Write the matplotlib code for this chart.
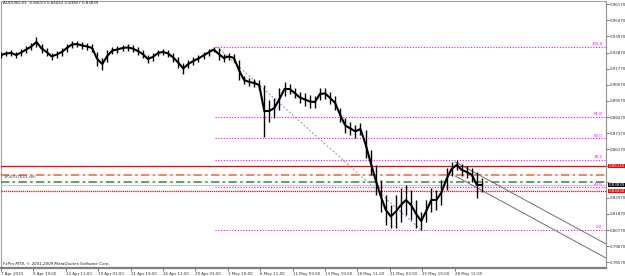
import matplotlib
matplotlib.use("Agg")
import matplotlib.pyplot as plt
import numpy as np

# ── Data (AUDUSD H1, high / low per 10-bar block) ─────────────────────────────
STEP = 10
high = [0.9291, 0.9298, 0.9305, 0.9291, 0.9312, 0.9332, 0.9353, 0.9394, 0.9346, 0.9319,
        0.9285, 0.9298, 0.9319, 0.9346, 0.9366, 0.9366, 0.9360, 0.9353, 0.9346, 0.9291,
        0.9250, 0.9305, 0.9325, 0.9332, 0.9339, 0.9346, 0.9339, 0.9325, 0.9305, 0.9271,
        0.9285, 0.9305, 0.9312, 0.9305, 0.9285, 0.9257, 0.9216, 0.9237, 0.9257, 0.9271,
        0.9291, 0.9312, 0.9325, 0.9319, 0.9278, 0.9285, 0.9278, 0.9237, 0.9128, 0.9114,
        0.9107, 0.9100, 0.9066, 0.8964, 0.8978, 0.9046, 0.9087, 0.9073, 0.9046, 0.9019,
        0.9012, 0.8998, 0.8991, 0.9046, 0.9046, 0.9019, 0.8991, 0.8909, 0.8841, 0.8814,
        0.8794, 0.8807, 0.8759, 0.8623, 0.8521, 0.8418, 0.8316, 0.8248, 0.8316, 0.8364,
        0.8384, 0.8350, 0.8282, 0.8200, 0.8282, 0.8364, 0.8350, 0.8418, 0.8500, 0.8541,
        0.8555, 0.8528, 0.8514, 0.8500, 0.8473, 0.8432]
low = [0.9250, 0.9264, 0.9264, 0.9250, 0.9264, 0.9285, 0.9305, 0.9325, 0.9285, 0.9264,
       0.9237, 0.9250, 0.9264, 0.9291, 0.9319, 0.9325, 0.9312, 0.9305, 0.9291, 0.9196,
       0.9169, 0.9223, 0.9278, 0.9285, 0.9298, 0.9298, 0.9291, 0.9271, 0.9250, 0.9216,
       0.9230, 0.9264, 0.9271, 0.9257, 0.9223, 0.9182, 0.9141, 0.9182, 0.9203, 0.9223,
       0.9244, 0.9264, 0.9291, 0.9237, 0.9223, 0.9237, 0.9223, 0.9100, 0.9073, 0.9060,
       0.9053, 0.9032, 0.8712, 0.8814, 0.8841, 0.8896, 0.8991, 0.9005, 0.8978, 0.8944,
       0.8923, 0.8909, 0.8909, 0.8964, 0.8971, 0.8937, 0.8896, 0.8814, 0.8739, 0.8725,
       0.8705, 0.8725, 0.8568, 0.8453, 0.8316, 0.8200, 0.8112, 0.8091, 0.8091, 0.8132,
       0.8180, 0.8146, 0.8091, 0.8077, 0.8132, 0.8200, 0.8214, 0.8248, 0.8350, 0.8446,
       0.8487, 0.8446, 0.8432, 0.8405, 0.8296, 0.8337]

date_labels = ["7 Apr 2010", "9 Apr 19:00", "14 Apr 11:00", "19 Apr 03:00", "21 Apr 19:00",
               "26 Apr 11:00", "29 Apr 03:00", "3 May 19:00", "6 May 11:00", "11 May 03:00",
               "13 May 19:00", "18 May 11:00", "21 May 03:00", "25 May 19:00", "28 May 11:00"]
date_bars = [0, 64, 128, 192, 256, 320, 384, 448, 512, 576, 640, 704, 768, 832, 896]

price_ticks = [0.7857 + 0.011 * k for k in range(17)]

fib_high, fib_low = 0.9326, 0.8077
fib_start, fib_end = 422, 830
fib_levels = [100.0, 61.8, 50.0, 38.2, 23.6, 0.0]

# horizontal order / price lines
sl_line, order_line, tp_line, bid_line, stop_line = 0.8514, 0.8455, 0.8405, 0.83839, 0.8343

# channel
ch_x = [897, 1195]
ch_upper = [0.8541, 0.7982]
ch_lower = [0.8446, 0.7886]

# ── Figure ───────────────────────────────────────────────────────────────────
W, H = 625, 276
fig = plt.figure(figsize=(W / 100, H / 100), dpi=100, facecolor="white")
ax = fig.add_axes([1 / W, 8 / H, 605 / W, 267 / H])
ax.set_facecolor("white")
ax.set_xlim(0, 1195)
ax.set_ylim(0.7818, 0.9639)

SMALL = 2.9
x = np.arange(len(high)) * STEP
hi = np.array(high)
lo = np.array(low)
ax.plot(x, (hi + lo) / 2, color="black", lw=1.5, zorder=5)
ax.vlines(x, lo, hi, color="black", lw=1.0, zorder=5)

# fibonacci
for lv in fib_levels:
    p = fib_low + (fib_high - fib_low) * lv / 100
    ax.plot([fib_start, 1195], [p, p], color="#ff00ff", lw=0.8, ls=(0, (1, 1.5)), zorder=2)
    ax.text(1188, p + 0.0006, f"{lv:.1f}", color="#ff00ff", fontsize=SMALL,
            ha="right", va="bottom", zorder=6)
ax.plot([fib_start + 4, fib_end], [fib_high, fib_low], color="#8c8cc8", lw=0.7,
        ls=(0, (2, 2)), zorder=2)

ax.axhline(sl_line, color="#ff0000", lw=0.9, zorder=3)
ax.axhline(order_line, color="#ff6a3c", lw=1.2, ls=(0, (5, 2, 1.5, 2)), zorder=3)
ax.axhline(tp_line, color="#3c9a3c", lw=1.2, ls=(0, (5, 2, 1.5, 2)), zorder=3)
ax.axhline(bid_line, color="#c8c8c8", lw=0.8, zorder=3)
ax.axhline(stop_line, color="#ff0000", lw=0.9, ls=(0, (1, 0.7)), zorder=3)
ax.text(6, order_line - 0.0006, "#04917643 sell", fontsize=SMALL, color="#404040",
        va="top", ha="left", zorder=6)

ax.plot(ch_x, ch_upper, color="#707070", lw=0.7, zorder=4)
ax.plot(ch_x, ch_lower, color="#707070", lw=0.7, zorder=4)

# axes styling
for sp in ["top", "left"]:
    ax.spines[sp].set_color("#a0a0a0")
    ax.spines[sp].set_linewidth(0.8)
ax.spines["right"].set_color("#909090")
ax.spines["bottom"].set_color("#808080")
ax.spines["bottom"].set_linewidth(1.6)
ax.yaxis.tick_right()
ax.set_yticks(price_ticks)
# labels hidden behind the price boxes are left empty
ax.set_yticklabels(["" if k in (6, 5) else f"{v:.5f}" for k, v in enumerate(price_ticks)])
ax.tick_params(axis="y", length=2, width=0.6, color="#606060", labelsize=SMALL,
               labelcolor="#303030", pad=1)
ax.set_xticks(date_bars)
ax.set_xticklabels(date_labels)
ax.tick_params(axis="x", length=2, width=0.6, color="#606060", labelsize=SMALL,
               labelcolor="#303030", pad=1, direction="out")
for lbl in ax.get_xticklabels():
    lbl.set_ha("left")

# price boxes on the right axis
for p, bg in [(sl_line, "#ff0000"), (bid_line, "#000000"), (stop_line, "#ff0000")]:
    ax.text(1.004, p, f"{p:.5f}", transform=ax.get_yaxis_transform(), fontsize=SMALL,
            color="white", va="center", ha="left", clip_on=False, zorder=10,
            bbox=dict(boxstyle="square,pad=0.1", fc=bg, ec="none"))

ax.text(4, 0.9625, "AUDUSD,H1  0.84013 0.84042 0.83807 0.83839", fontsize=SMALL,
        color="#202020", va="center", ha="left")
ax.text(4, 0.7848, "FxPro MT4, \u00a9 2001-2009 MetaQuotes Software Corp.", fontsize=SMALL,
        color="#202020", va="center", ha="left", style="italic")

fig.savefig("out.png", dpi=100, facecolor="white")
